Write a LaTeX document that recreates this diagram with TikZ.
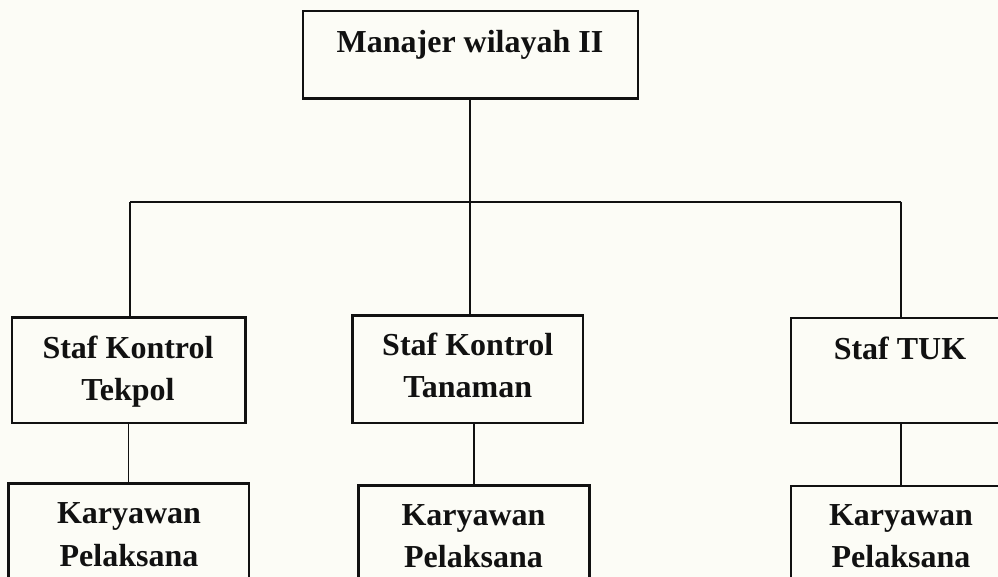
\documentclass[tikz,border=0pt]{standalone}
\usepackage{fontspec}
\setmainfont{Liberation Serif}
\definecolor{paper}{RGB}{252,252,246}
\definecolor{ink}{RGB}{17,17,17}
% two centred lines whose baseline is that of the first line
\newcommand{\twolines}[2]{\begin{tabular}[t]{@{}c@{}}#1\\#2\end{tabular}}

\begin{document}
\begin{tikzpicture}[x=1pt,y=-1pt,
  box/.style={draw=ink, line width=2.4pt, inner sep=0pt, rectangle},
  lbl/.style={inner sep=0pt, anchor=base, text=ink,
    font=\fontsize{32}{42.7}\selectfont\bfseries},
  link/.style={draw=ink, line width=1.8pt}]

  \useasboundingbox (0,0) rectangle (998,577);
  \clip (0,0) rectangle (998,577);
  \fill[paper] (0,0) rectangle (998,577);

  % boxes
  \node[box, minimum width=335pt, minimum height=87.4pt]  (top)     at (470.2,55)    {};
  \node[box, minimum width=233.6pt, minimum height=105.4pt] (tekpol)  at (128.5,370)   {};
  \node[box, minimum width=230.4pt, minimum height=107.4pt] (tanaman) at (467.5,369)   {};
  \node[box, minimum width=218pt, minimum height=105pt]   (tuk)     at (900,370.2)   {};
  \node[box, minimum width=240.4pt, minimum height=156.7pt] (kar1)    at (128.5,561.7) {};
  \node[box, minimum width=231pt, minimum height=154.7pt] (kar2)    at (473.8,562.7) {};
  \node[box, minimum width=220pt, minimum height=154.3pt] (kar3)    at (901,562.9)   {};

  % texts
  \node[lbl] (topT)     at (470,52.3)  {Manajer wilayah II};
  \node[lbl] (tekpolT)  at (128,358)   {\twolines{Staf Kontrol}{Tekpol}};
  \node[lbl] (tanamanT) at (467.7,355) {\twolines{Staf Kontrol}{Tanaman}};
  \node[lbl] (tukT)     at (900,359)   {Staf TUK};
  \node[lbl] (kar1T)    at (129,523.3) {\twolines{Karyawan}{Pelaksana}};
  \node[lbl] (kar2T)    at (473.5,525) {\twolines{Karyawan}{Pelaksana}};
  \node[lbl] (kar3T)    at (901,525)   {\twolines{Karyawan}{Pelaksana}};

  % bus line under the manager
  \coordinate (busL) at (130,201.7);
  \coordinate (busR) at (901,201.7);

  \draw[link] (busL) -- (busR);
  \draw[link] (top.south) -- (top.south |- tanaman.north);
  \draw[link] (busL) -- (busL |- tekpol.north);
  \draw[link] (busR) -- (busR |- tuk.north);

  % staff to workers
  \draw[link] (tekpol.south) -- (kar1.north);
  \draw[link] (kar2.north) -- (kar2.north |- tanaman.south);
  \draw[link] (kar3.north) -- (kar3.north |- tuk.south);
\end{tikzpicture}
\end{document}
